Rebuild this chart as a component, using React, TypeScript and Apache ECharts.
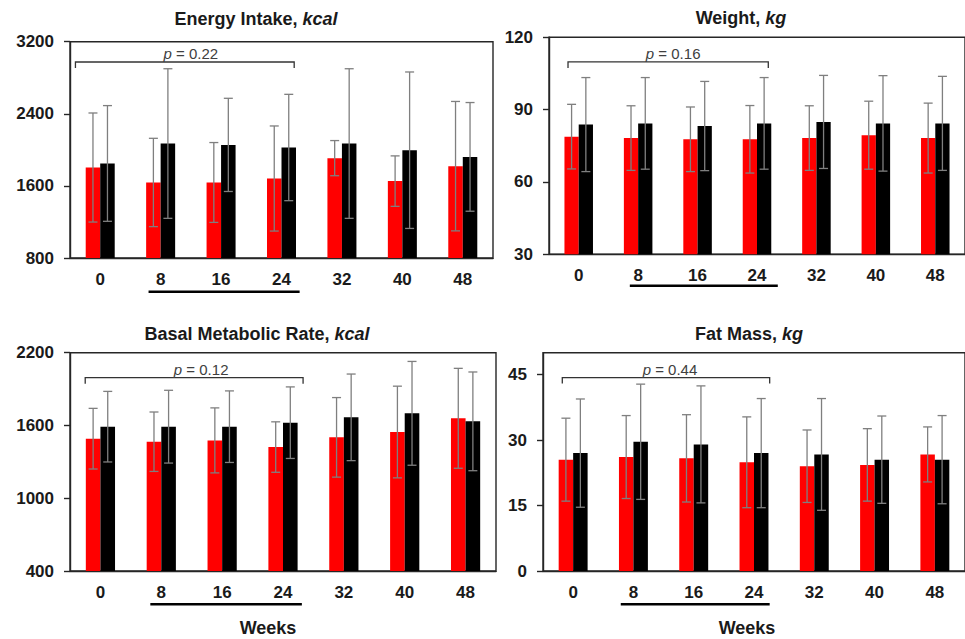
import React, { useEffect, useRef } from 'react';
import * as echarts from 'echarts';

// ---------- data ----------
const weeks = ['0', '8', '16', '24', '32', '40', '48'];

const energyRed = [1804, 1638, 1638, 1682, 1908, 1653, 1819];
const energyRedSd = [605, 490, 443, 583, 195, 280, 718];
const energyBlack = [1849, 2070, 2055, 2026, 2070, 1996, 1922];
const energyBlackSd = [642, 830, 517, 590, 830, 868, 603];
const energyTicks = [800, 1600, 2400, 3200];

const weightRed = [78.8, 78.2, 77.7, 77.7, 78.2, 79.4, 78.2];
const weightRedSd = [13.4, 13.4, 13.4, 14.0, 13.4, 14.1, 14.5];
const weightBlack = [83.8, 84.3, 83.2, 84.3, 84.9, 84.3, 84.3];
const weightBlackSd = [19.5, 19.0, 18.5, 19.0, 19.3, 19.8, 19.5];
const weightTicks = [30, 60, 90, 120];

const bmrRed = [1491, 1466, 1477, 1422, 1502, 1546, 1659];
const bmrRedSd = [250, 245, 268, 208, 328, 378, 412];
const bmrBlack = [1590, 1590, 1590, 1623, 1667, 1700, 1634];
const bmrBlackSd = [291, 300, 295, 295, 357, 428, 407];
const bmrTicks = [400, 1000, 1600, 2200];

const fatRed = [25.5, 26.1, 25.8, 24.9, 24.0, 24.3, 26.7];
const fatRedSd = [9.5, 9.5, 10.0, 10.4, 8.3, 8.3, 6.3];
const fatBlack = [27.0, 29.6, 29.0, 27.0, 26.7, 25.5, 25.5];
const fatBlackSd = [12.4, 13.2, 13.4, 12.5, 12.8, 10.0, 10.1];
const fatTicks = [0, 15, 30, 45];

const pValues = ['0.22', '0.16', '0.12', '0.44'];
const bracketLevels = [2975, 109.8, 1994, 44.3];
// bracket spans weeks 0..24, underline spans weeks 8..24
const bracketSpan = [0, 3];
const underlineSpan = [1, 3];

// ---------- style / layout ----------
const FONT = '"Liberation Sans", Arial, Helvetica, sans-serif';
const BAR_FRAC = 0.24;
const AXIS_COLOR = '#262626';
const ERR_COLOR = '#7f7f7f';

interface Panel {
  name: string;
  unit: string;
  min: number;
  max: number;
  ticks: number[];
  red: number[];
  redSd: number[];
  black: number[];
  blackSd: number[];
  grid: { left: number; top: number; width: number; height: number };
  title: { x: number; y: number };
  br: { l: number; r: number; tx: number };
  ul: { l: number; r: number; dy: number };
}

const panels: Panel[] = [
  {
    name: 'Energy Intake, ', unit: 'kcal', min: 800, max: 3200, ticks: energyTicks,
    red: energyRed, redSd: energyRedSd, black: energyBlack, blackSd: energyBlackSd,
    grid: { left: 70, top: 41.7, width: 423, height: 216.3 },
    title: { x: 256, y: 19 },
    br: { l: -0.41, r: 0.21, tx: 6 },
    ul: { l: -0.2, r: 0.3, dy: 33.7 },
  },
  {
    name: 'Weight, ', unit: 'kg', min: 30, max: 120, ticks: weightTicks,
    red: weightRed, redSd: weightRedSd, black: weightBlack, blackSd: weightBlackSd,
    grid: { left: 549, top: 37.3, width: 424, height: 217 },
    title: { x: 741, y: 17.5 },
    br: { l: -0.18, r: 0.19, tx: 5 },
    ul: { l: -0.14, r: 0.35, dy: 31.4 },
  },
  {
    name: 'Basal Metabolic Rate, ', unit: 'kcal', min: 400, max: 2200, ticks: bmrTicks,
    red: bmrRed, redSd: bmrRedSd, black: bmrBlack, blackSd: bmrBlackSd,
    grid: { left: 70, top: 352.7, width: 426, height: 218.3 },
    title: { x: 257, y: 333.5 },
    br: { l: -0.25, r: 0.33, tx: 7 },
    ul: { l: -0.18, r: 0.31, dy: 33.3 },
  },
  {
    name: 'Fat Mass, ', unit: 'kg', min: 0, max: 50, ticks: fatTicks,
    red: fatRed, redSd: fatRedSd, black: fatBlack, blackSd: fatBlackSd,
    grid: { left: 543, top: 352.7, width: 428, height: 218.3 },
    title: { x: 749, y: 333.5 },
    br: { l: -0.18, r: 0.26, tx: 4 },
    ul: { l: -0.21, r: 0.26, dy: 33.3 },
  },
];

const weeksLabels = [
  { x: 268, y: 628 },
  { x: 747, y: 628 },
];

function errorRender(side: number) {
  return (params: any, api: any) => {
    const i = api.value(0);
    const m = api.value(1);
    const s = api.value(2);
    const band = api.size([1, 0])[0];
    const off = (side * band * BAR_FRAC) / 2;
    const top = api.coord([i, m + s]);
    const bot = api.coord([i, m - s]);
    const x = top[0] + off;
    const style = { stroke: ERR_COLOR, lineWidth: 1.3 };
    return {
      type: 'group',
      children: [
        { type: 'line', shape: { x1: x, y1: top[1], x2: x, y2: bot[1] }, style },
        { type: 'line', shape: { x1: x - 4.5, y1: top[1], x2: x + 4.5, y2: top[1] }, style },
        { type: 'line', shape: { x1: x - 4.5, y1: bot[1], x2: x + 4.5, y2: bot[1] }, style },
      ],
    };
  };
}

function annotationRender(p: Panel, pv: string) {
  return (params: any, api: any) => {
    const level = api.value(2);
    const a = api.coord([api.value(0), level]);
    const b = api.coord([api.value(1), level]);
    const band = api.size([1, 0])[0];
    const x1 = a[0] + p.br.l * band;
    const x2 = b[0] + p.br.r * band;
    const y = a[1];
    const u1 = api.coord([underlineSpan[0], p.min]);
    const u2 = api.coord([underlineSpan[1], p.min]);
    const lineStyle = { stroke: '#333', lineWidth: 1.3, fill: null };
    return {
      type: 'group',
      children: [
        {
          type: 'polyline',
          shape: { points: [[x1, y + 6], [x1, y], [x2, y], [x2, y + 6]] },
          style: lineStyle,
        },
        {
          type: 'text',
          x: (x1 + x2) / 2 + p.br.tx,
          y: y - 8,
          style: {
            text: '{i|p} = ' + pv,
            rich: { i: { fontStyle: 'italic', fontFamily: FONT, fontSize: 15, fill: '#404040' } },
            fontFamily: FONT,
            fontSize: 15,
            fill: '#404040',
            align: 'center',
            verticalAlign: 'middle',
          },
        },
        {
          type: 'line',
          shape: {
            x1: u1[0] + p.ul.l * band,
            y1: u1[1] + p.ul.dy,
            x2: u2[0] + p.ul.r * band,
            y2: u2[1] + p.ul.dy,
          },
          style: { stroke: '#000', lineWidth: 2.6 },
        },
      ],
    };
  };
}

export default function App() {
  const ref = useRef<HTMLDivElement>(null);

  useEffect(() => {
    if (!ref.current) return;
    const chart = echarts.init(ref.current, undefined, { renderer: 'svg' });

    const grid: any[] = [];
    const xAxis: any[] = [];
    const yAxis: any[] = [];
    const series: any[] = [];
    const graphic: any[] = [];

    panels.forEach((p, k) => {
      grid.push({
        ...p.grid,
        show: true,
        borderColor: AXIS_COLOR,
        borderWidth: 1.4,
        backgroundColor: 'transparent',
        containLabel: false,
      });
      xAxis.push({
        type: 'category',
        gridIndex: k,
        data: weeks,
        boundaryGap: true,
        axisLine: { show: true, lineStyle: { color: AXIS_COLOR, width: 1.4 } },
        axisTick: { show: false },
        axisLabel: {
          color: '#1a1a1a',
          fontFamily: FONT,
          fontWeight: 'bold',
          fontSize: 17,
          margin: 13,
        },
        splitLine: { show: false },
      });
      yAxis.push({
        type: 'value',
        gridIndex: k,
        min: p.min,
        max: p.max,
        axisLine: { show: true, lineStyle: { color: AXIS_COLOR, width: 1.4 } },
        axisTick: {
          show: true,
          length: 6,
          customValues: p.ticks,
          lineStyle: { color: AXIS_COLOR, width: 1.4 },
        },
        axisLabel: {
          customValues: p.ticks,
          formatter: (v: number) => String(v),
          color: '#1a1a1a',
          fontFamily: FONT,
          fontWeight: 'bold',
          fontSize: 17,
          margin: 16,
        },
        splitLine: { show: false },
      });
      series.push(
        {
          type: 'bar',
          xAxisIndex: k,
          yAxisIndex: k,
          data: p.red,
          barWidth: BAR_FRAC * 100 + '%',
          barGap: '0%',
          itemStyle: { color: '#ff0000' },
          z: 2,
        },
        {
          type: 'bar',
          xAxisIndex: k,
          yAxisIndex: k,
          data: p.black,
          barWidth: BAR_FRAC * 100 + '%',
          barGap: '0%',
          itemStyle: { color: '#000000' },
          z: 2,
        },
        {
          type: 'custom',
          xAxisIndex: k,
          yAxisIndex: k,
          data: p.red.map((v, i) => [i, v, p.redSd[i]]),
          encode: { x: 0, y: 1 },
          renderItem: errorRender(-1),
          z: 5,
        },
        {
          type: 'custom',
          xAxisIndex: k,
          yAxisIndex: k,
          data: p.black.map((v, i) => [i, v, p.blackSd[i]]),
          encode: { x: 0, y: 1 },
          renderItem: errorRender(1),
          z: 5,
        },
        {
          type: 'custom',
          xAxisIndex: k,
          yAxisIndex: k,
          data: [[bracketSpan[0], bracketSpan[1], bracketLevels[k]]],
          encode: { x: 0, y: 2 },
          renderItem: annotationRender(p, pValues[k]),
          z: 6,
        }
      );
      graphic.push({
        type: 'text',
        x: p.title.x,
        y: p.title.y,
        style: {
          text: '{b|' + p.name + '}{i|' + p.unit + '}',
          rich: {
            b: { fontFamily: FONT, fontWeight: 'bold', fontSize: 18, fill: '#1a1a1a' },
            i: { fontFamily: FONT, fontWeight: 'bold', fontStyle: 'italic', fontSize: 18, fill: '#1a1a1a' },
          },
          align: 'center',
          verticalAlign: 'middle',
        },
      });
    });

    weeksLabels.forEach((w) => {
      graphic.push({
        type: 'text',
        x: w.x,
        y: w.y,
        style: {
          text: 'Weeks',
          fontFamily: FONT,
          fontWeight: 'bold',
          fontSize: 18,
          fill: '#1a1a1a',
          align: 'center',
          verticalAlign: 'middle',
        },
      });
    });

    chart.setOption({
      animation: false,
      backgroundColor: '#ffffff',
      grid,
      xAxis,
      yAxis,
      series,
      graphic,
    });

    return () => chart.dispose();
  }, []);

  return (
    <div
      ref={ref}
      style={{ position: 'absolute', left: 0, top: 0, width: 965, height: 639, background: '#fff' }}
    />
  );
}
